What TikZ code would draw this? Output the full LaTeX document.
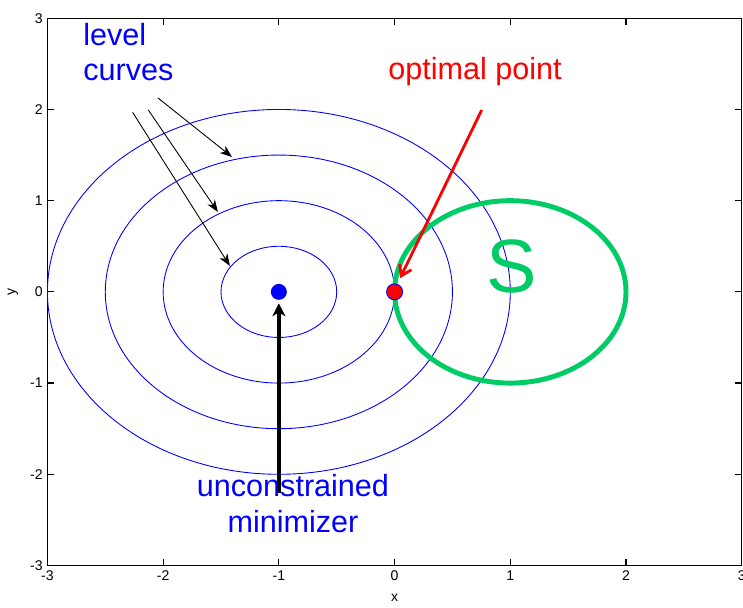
\documentclass[tikz,border=0pt]{standalone}
\usepackage{fontspec}
\setmainfont{Liberation Sans}
\usetikzlibrary{arrows.meta}
\definecolor{myblue}{RGB}{0,0,255}
\definecolor{myred}{RGB}{255,0,0}
\definecolor{mygreen}{RGB}{0,204,102}
\tikzset{
  levelcurve/.style={myblue, line width=0.5pt},
  setcurve/.style={mygreen, line width=2.8pt},
  axisbox/.style={black, line width=0.7pt},
  ticklabel/.style={font=\fontsize{8}{9}\selectfont, inner sep=0pt},
  bigtext/.style={font=\fontsize{17.4}{20.4}\selectfont, inner sep=0pt},
  dot/.style={circle, minimum size=0.32cm, inner sep=0pt, line width=0.5pt},
  thinarrow/.style={-{Stealth[length=2.4mm, width=1.8mm, inset=0.7mm]}, line width=0.5pt, black},
  thickarrow/.style={-{Stealth[length=2.6mm, width=2.6mm, inset=0.8mm]}, line width=2pt, black},
  redarrow/.style={-{Straight Barb[length=2mm, width=2.6mm]}, line width=1.6pt, myred}
}

\begin{document}
\begin{tikzpicture}[x=2.314cm, y=1.824cm]
  \useasboundingbox (-3.41,-3.455) rectangle (3.011,3.2);

  % axes box and ticks
  \draw[axisbox] (-3,-3) rectangle (3,3);
  \foreach \t in {-2,...,2} {
    \draw[axisbox] (\t,-3) -- ++(0,0.14cm);
    \draw[axisbox] (\t,3) -- ++(0,-0.14cm);
    \draw[axisbox] (-3,\t) -- ++(0.14cm,0);
    \draw[axisbox] (3,\t) -- ++(-0.14cm,0);
  }
  \foreach \t in {-3,...,3} {
    \node[ticklabel, anchor=north] (xt\t) at ([yshift=-0.1cm]\t,-3) {\t};
    \node[ticklabel, anchor=east] (yt\t) at ([xshift=-0.09cm]-3,\t) {\t};
  }
  \node[ticklabel] (xlabel) at (0,-3.356) {x};
  \node[ticklabel, rotate=90] (ylabel) at (-3.298,0) {y};

  % level curves and the set S
  \foreach \r in {0.5,1,1.5,2}
    \draw[levelcurve] (-1,0) ellipse[x radius=\r*2.314cm, y radius=\r*1.824cm];
  \draw[setcurve] (1,0) ellipse[x radius=2.314cm, y radius=1.824cm];

  % labels
  \node[bigtext, myblue, align=left, anchor=north west] (levellbl) at (-2.693,2.953) {level\\curves};
  \node[bigtext, myred, anchor=base] (optlbl) at (0.695,2.323) {optimal point};
  \node[font=\fontsize{43}{50}\selectfont, mygreen, inner sep=0pt, anchor=base] (slbl) at (1.015,-0.012) {S};
  \node[bigtext, myblue, align=center, anchor=north] (uminlbl) at (-0.878,-1.997) {unconstrained\\minimizer};

  % arrow ends
  \coordinate (lc1) at (-2.264,1.969);
  \coordinate (lc2) at (-2.129,1.995);
  \coordinate (lc3) at (-2.045,2.126);
  \coordinate (lv1) at (-1.423,0.284);
  \coordinate (lv2) at (-1.527,0.876);
  \coordinate (lv3) at (-1.405,1.479);
  \coordinate (optfrom) at (0.753,1.994);
  \coordinate (optto) at (0.047,0.149);
  \coordinate (uminfrom) at (-1,-2.2);
  \coordinate (uminto) at (-1,-0.125);

  \draw[thinarrow] (lc1) -- (lv1);
  \draw[thinarrow] (lc2) -- (lv2);
  \draw[thinarrow] (lc3) -- (lv3);
  \draw[thickarrow] (uminfrom) -- (uminto);
  \draw[redarrow] (optfrom) -- (optto);

  % points
  \node[dot, fill=myblue] (umin) at (-1,0) {};
  \node[dot, fill=myred, draw=myblue] (opt) at (0,0) {};
\end{tikzpicture}
\end{document}
